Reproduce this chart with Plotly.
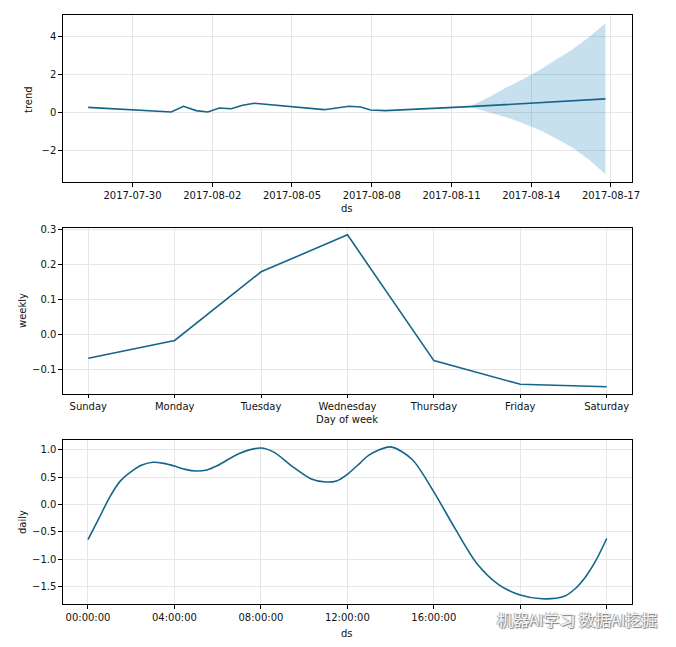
import plotly.graph_objects as go

# ---------------- data ----------------
trend_ds = ["2017-07-28 08:00", "2017-07-31 11:00", "2017-07-31 22:00", "2017-08-01 09:30",
            "2017-08-01 20:00", "2017-08-02 06:30", "2017-08-02 17:00", "2017-08-03 03:30",
            "2017-08-03 14:00", "2017-08-06 05:00", "2017-08-07 03:30", "2017-08-07 14:00",
            "2017-08-07 23:00", "2017-08-08 12:30", "2017-08-11 16:00", "2017-08-16 19:00"]
trend_vals = [0.26, 0.02, 0.32, 0.09, 0.02, 0.23, 0.19, 0.37,
              0.48, 0.14, 0.32, 0.28, 0.12, 0.09, 0.30, 0.71]

band_ds = ["2017-08-11 16:00", "2017-08-12 10:30", "2017-08-13 01:30", "2017-08-13 16:30",
           "2017-08-14 07:30", "2017-08-14 22:30", "2017-08-15 13:30", "2017-08-16 04:30",
           "2017-08-16 19:00"]
band_upper = [0.30, 0.83, 1.31, 1.75, 2.24, 2.77, 3.33, 4.00, 4.71]
band_lower = [0.30, 0.00, -0.26, -0.58, -0.93, -1.38, -1.87, -2.52, -3.28]

trend_tickvals = ["2017-07-30", "2017-08-02", "2017-08-05", "2017-08-08",
                  "2017-08-11", "2017-08-14", "2017-08-17"]

week_days = ["Sunday", "Monday", "Tuesday", "Wednesday", "Thursday", "Friday", "Saturday"]
weekly_vals = [-0.068, -0.017, 0.180, 0.286, -0.075, -0.143, -0.150]

daily_hours = [0, 0.5, 1, 1.5, 2, 2.5, 3, 3.5, 4, 4.5, 5, 5.5, 6, 7, 8, 8.6, 9.5, 10.3, 11,
               11.5, 12, 12.6, 13, 14, 15, 16, 17, 18, 19, 20, 21, 22, 22.5, 23, 23.5, 24]
daily_vals = [-0.64, -0.26, 0.13, 0.43, 0.60, 0.72, 0.77, 0.75, 0.70, 0.64, 0.61, 0.63,
              0.71, 0.93, 1.03, 0.955, 0.68, 0.47, 0.41, 0.43, 0.55, 0.76, 0.90, 1.05,
              0.82, 0.23, -0.45, -1.08, -1.46, -1.65, -1.72, -1.68, -1.55, -1.33, -1.02,
              -0.62]
daily_tickvals = [0, 4, 8, 12, 16, 20, 24]
daily_ticktext = ["00:00:00", "04:00:00", "08:00:00", "12:00:00", "16:00:00", "", ""]

# ---------------- styling ----------------
W, H = 676, 647
LINE = "#15658a"
FONT = dict(family="DejaVu Sans", size=10, color="#111111")

def px_x(p):
    return p / W

def px_y(p):
    return 1 - p / H

x_dom = [px_x(62.7), px_x(632)]
axis_common = dict(showline=True, linecolor="black", linewidth=0.8, mirror=True,
                   ticks="outside", ticklen=3.5, tickwidth=0.8, tickcolor="black",
                   showgrid=True, gridcolor="#e6e6e6", gridwidth=1, zeroline=False,
                   tickfont=FONT)

fig = go.Figure()

# trend band (future uncertainty)
fig.add_trace(go.Scatter(x=band_ds, y=band_upper, mode="lines", line=dict(width=0),
                         xaxis="x", yaxis="y", showlegend=False, hoverinfo="skip"))
fig.add_trace(go.Scatter(x=band_ds, y=band_lower, mode="lines", line=dict(width=0),
                         fill="tonexty", fillcolor="rgba(0,114,178,0.22)",
                         xaxis="x", yaxis="y", showlegend=False, hoverinfo="skip"))
fig.add_trace(go.Scatter(x=trend_ds, y=trend_vals, mode="lines",
                         line=dict(color=LINE, width=1.6),
                         xaxis="x", yaxis="y", showlegend=False))

fig.add_trace(go.Scatter(x=week_days, y=weekly_vals, mode="lines",
                         line=dict(color=LINE, width=1.6),
                         xaxis="x2", yaxis="y2", showlegend=False))

fig.add_trace(go.Scatter(x=daily_hours, y=daily_vals, mode="lines",
                         line=dict(color=LINE, width=1.6, shape="spline", smoothing=0.8),
                         xaxis="x3", yaxis="y3", showlegend=False))

fig.update_layout(
    width=W, height=H,
    margin=dict(l=0, r=0, t=0, b=0, autoexpand=False),
    paper_bgcolor="white", plot_bgcolor="white",
    font=FONT,
    showlegend=False,
    xaxis=dict(domain=x_dom, anchor="y", type="date",
               range=["2017-07-27 09:00", "2017-08-17 19:00"],
               tickvals=trend_tickvals, tickformat="%Y-%m-%d", **axis_common),
    yaxis=dict(domain=[px_y(182.3), px_y(15.3)], anchor="x",
               range=[-3.70, 5.13], tickvals=[-2, 0, 2, 4], **axis_common),
    xaxis2=dict(domain=x_dom, anchor="y2", type="category",
                range=[-0.296, 6.293], **axis_common),
    yaxis2=dict(domain=[px_y(394), px_y(228)], anchor="x2",
                range=[-0.1708, 0.3057], tickvals=[-0.1, 0.0, 0.1, 0.2, 0.3],
                tickformat=".1f", **axis_common),
    xaxis3=dict(domain=x_dom, anchor="y3", range=[-1.17, 25.17],
                tickvals=daily_tickvals, ticktext=daily_ticktext, **axis_common),
    yaxis3=dict(domain=[px_y(604.3), px_y(440.3)], anchor="x3",
                range=[-1.82, 1.17], tickvals=[-1.5, -1.0, -0.5, 0.0, 0.5, 1.0],
                tickformat=".1f", **axis_common),
)

titles = [
    ("trend", 29, 99, -90),
    ("ds", 347, 208, 0),
    ("weekly", 22, 311, -90),
    ("Day of week", 347, 419, 0),
    ("daily", 22, 522, -90),
    ("ds", 347, 633, 0),
]
for text, x, y, ang in titles:
    fig.add_annotation(text=text, x=px_x(x), y=px_y(y), xref="paper", yref="paper",
                       showarrow=False, textangle=ang, font=FONT,
                       xanchor="center", yanchor="middle")

# watermark
fig.add_annotation(text="机器AI学习 数据AI挖掘", x=px_x(577), y=px_y(619),
                   xref="paper", yref="paper", showarrow=False,
                   xanchor="center", yanchor="middle",
                   font=dict(family="Noto Sans CJK SC", size=16, color="#f4f4f4",
                             shadow="1px 1px 1px #777777, -1px 0px 1px #999999"))

fig.write_html("out.html", config={"displayModeBar": False},
               post_script="document.body.style.margin='0';document.body.style.padding='0';")
